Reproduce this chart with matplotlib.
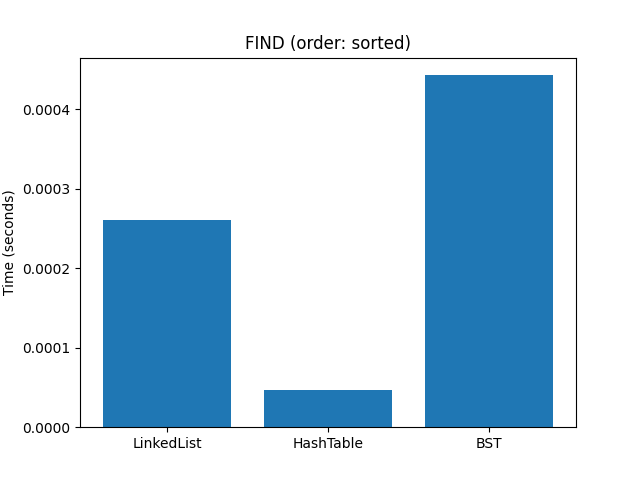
import matplotlib
matplotlib.use("Agg")
import matplotlib.pyplot as plt

categories = ["LinkedList", "HashTable", "BST"]
times = [0.000261, 0.0000465, 0.000443]

fig, ax = plt.subplots(figsize=(6.4, 4.8), dpi=100)
ax.bar(categories, times)
ax.set_title("FIND (order: sorted)")
ax.set_ylabel("Time (seconds)")
fig.savefig("out.png")
